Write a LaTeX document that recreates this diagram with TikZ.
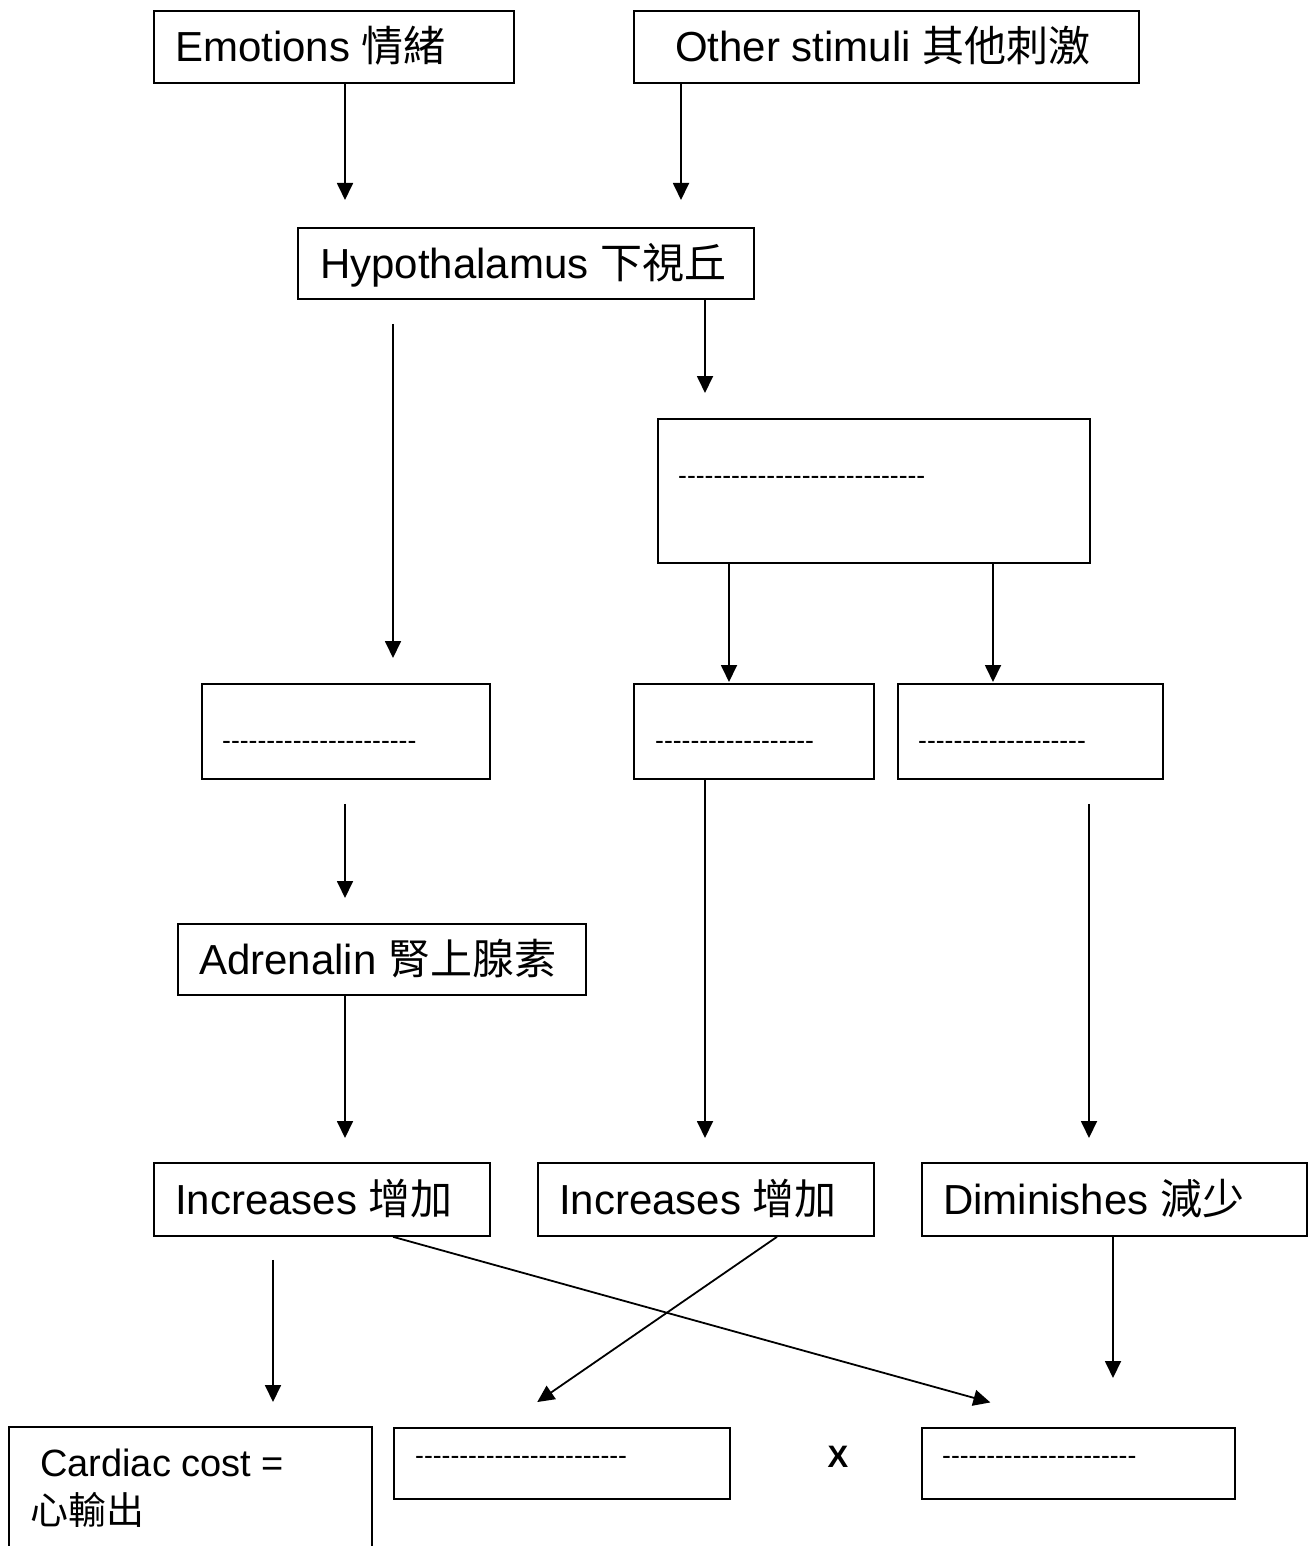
\documentclass[tikz,border=0pt]{standalone}
\usepackage{fontspec}
\setmainfont{Liberation Sans}
\newfontfamily\cjk{Noto Sans CJK TC}
\usetikzlibrary{arrows.meta}
\newcommand\mydashes[1]{\foreach \i in {1,...,#1}{-\kern0pt}}
\begin{document}
\begin{tikzpicture}[x=1pt,y=-1pt,
  box/.style={draw, line width=1.8pt, anchor=north west, inner sep=0pt},
  txt/.style={inner sep=0pt, anchor=base west, font=\fontsize{42}{50}\selectfont},
  smalltxt/.style={inner sep=0pt, anchor=base west, font=\fontsize{38}{46}\selectfont},
  dashtxt/.style={inner sep=0pt, anchor=base west, font=\fontsize{26.5}{30}\selectfont},
  arr/.style={line width=1.8pt, -{Triangle[length=17pt 0 0,width=16pt 0 0]}}
]
\useasboundingbox[fill=white] (0,0) rectangle (1309,1546);

% boxes
\node[box, minimum width=360pt, minimum height=72pt] (emo) at (153,10) {};
\node[box, minimum width=505pt, minimum height=72pt] (oth) at (633,10) {};
\node[box, minimum width=456pt, minimum height=71pt] (hyp) at (297,227) {};
\node[box, minimum width=432pt, minimum height=144pt] (big) at (657,418) {};
\node[box, minimum width=288pt, minimum height=95pt] (ba) at (201,683) {};
\node[box, minimum width=240pt, minimum height=95pt] (bb) at (633,683) {};
\node[box, minimum width=265pt, minimum height=95pt] (bc) at (897,683) {};
\node[box, minimum width=408pt, minimum height=71pt] (adr) at (177,923) {};
\node[box, minimum width=336pt, minimum height=73pt] (inc1) at (153,1162) {};
\node[box, minimum width=336pt, minimum height=73pt] (inc2) at (537,1162) {};
\node[box, minimum width=385pt, minimum height=73pt] (dim) at (921,1162) {};
\node[box, draw=none, minimum width=361pt, minimum height=121pt] (card) at (9,1427) {};
\node[box, minimum width=336pt, minimum height=71pt] (bot1) at (393,1427) {};
\node[box, minimum width=313pt, minimum height=71pt] (bot2) at (921,1427) {};
\draw[line width=1.8pt] (card.south west) |- (card.north east) -- (card.south east);

% texts
\node[txt] (temo) at ([xshift=22pt,yshift=-15pt]emo.west) {Emotions {\cjk 情緒}};
\node[txt] (toth) at ([xshift=42pt,yshift=-15pt]oth.west) {Other stimuli {\cjk 其他刺激}};
\node[txt] (thyp) at ([xshift=23pt,yshift=-15pt]hyp.west) {Hypothalamus {\cjk 下視丘}};
\node[txt] (tadr) at ([xshift=22pt,yshift=-15pt]adr.west) {Adrenalin {\cjk 腎上腺素}};
\node[txt] (tinc1) at ([xshift=22pt,yshift=-15pt]inc1.west) {Increases {\cjk 增加}};
\node[txt] (tinc2) at ([xshift=22pt,yshift=-15pt]inc2.west) {Increases {\cjk 增加}};
\node[txt] (tdim) at ([xshift=22pt,yshift=-15pt]dim.west) {Diminishes {\cjk 減少}};
\node[smalltxt] (tcard1) at ([xshift=31pt,yshift=-49pt]card.north west) {Cardiac cost =};
\node[smalltxt] (tcard2) at ([xshift=21pt,yshift=-97pt]card.north west) {{\cjk 心輸出}};

\node[dashtxt] (dbig) at ([xshift=21pt,yshift=-66pt]big.north west) {\mydashes{28}};
\node[dashtxt] (dba) at ([xshift=21pt,yshift=-66pt]ba.north west) {\mydashes{22}};
\node[dashtxt] (dbb) at ([xshift=22pt,yshift=-66pt]bb.north west) {\mydashes{18}};
\node[dashtxt] (dbc) at ([xshift=21pt,yshift=-66pt]bc.north west) {\mydashes{19}};
\node[dashtxt] (dbot1) at ([xshift=22pt,yshift=-37pt]bot1.north west) {\mydashes{24}};
\node[dashtxt] (dbot2) at ([xshift=21pt,yshift=-37pt]bot2.north west) {\mydashes{22}};

\node[font=\fontsize{31}{36}\selectfont\bfseries, inner sep=0pt] (times) at (838,1457) {X};

% arrows
\draw[arr, shorten >=27pt] (emo.south -| 345,0) -- (hyp.north -| 345,0);
\draw[arr, shorten >=27pt] (oth.south -| 681,0) -- (hyp.north -| 681,0);
\draw[arr, shorten <=24pt, shorten >=25pt] (hyp.south -| 393,0) -- (ba.north -| 393,0);
\draw[arr, shorten >=25pt] (hyp.south -| 705,0) -- (big.north -| 705,0);
\draw[arr, shorten >=1pt] (big.south -| 729,0) -- (bb.north -| 729,0);
\draw[arr, shorten >=1pt] (big.south -| 993,0) -- (bc.north -| 993,0);
\draw[arr, shorten <=24pt, shorten >=25pt] (ba.south -| 345,0) -- (adr.north -| 345,0);
\draw[arr, shorten >=24pt] (adr.south -| 345,0) -- (inc1.north -| 345,0);
\draw[arr, shorten >=24pt] (bb.south -| 705,0) -- (inc2.north -| 705,0);
\draw[arr, shorten <=24pt, shorten >=24pt] (bc.south -| 1089,0) -- (dim.north -| 1089,0);
\draw[arr, shorten <=23pt, shorten >=25pt] (inc1.south -| 273,0) -- (card.north -| 273,0);
\draw[arr, shorten >=92pt] (inc1.south -| 393,0) -- (bot2.north -| 1079,0);
\draw[arr, shorten >=44pt] (inc2.south -| 777,0) -- (bot1.north -| 501,0);
\draw[arr, shorten >=49pt] (dim.south -| 1113,0) -- (bot2.north -| 1113,0);
\end{tikzpicture}
\end{document}
